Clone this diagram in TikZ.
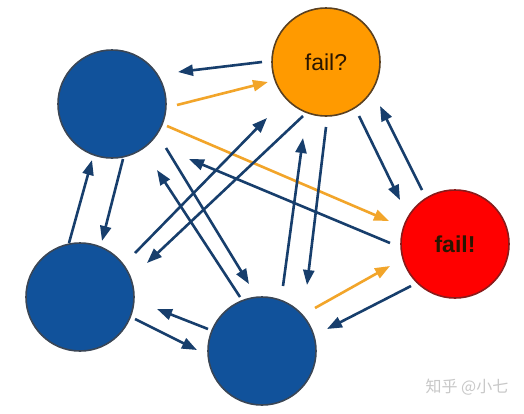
\documentclass[tikz,border=0pt]{standalone}
\usepackage{fontspec}
\setmainfont{Liberation Sans}
\newfontfamily\cjkfont{Noto Sans CJK SC}
\usetikzlibrary{arrows.meta,calc}
\definecolor{nodeblue}{HTML}{11529B}
\definecolor{nodeedge}{HTML}{3A4656}
\definecolor{nodeorange}{HTML}{FF9A00}
\definecolor{orangeedge}{HTML}{5A4020}
\definecolor{nodered}{HTML}{FF0000}
\definecolor{rededge}{HTML}{8A1A1A}
\definecolor{arrdark}{HTML}{173E6C}
\definecolor{arrorange}{HTML}{F2A52A}
\definecolor{wmgray}{HTML}{C8C8C8}
\definecolor{txtdark}{HTML}{2A1600}
\tikzset{
  state/.style={circle, minimum size=108pt, inner sep=0pt, line width=1.6pt, draw=nodeedge},
  bluestate/.style={state, fill=nodeblue},
  arr/.style={draw=arrdark, line width=2.6pt, -{Triangle[length=15pt,width=11pt]}},
  oarr/.style={draw=arrorange, line width=2.6pt, -{Triangle[length=15pt,width=11pt]}},
  lbl/.style={font=\fontsize{23}{26}\selectfont, text=txtdark},
}
\begin{document}
\begin{tikzpicture}[x=1pt,y=-1pt]
\useasboundingbox[fill=white] (0,0) rectangle (524,413);
\node[bluestate] (tl) at (112,104) {};
\node[state, fill=nodeorange, draw=orangeedge, lbl] (fq) at (326,62) {fail?};
\node[state, fill=nodered, draw=rededge, lbl, font=\fontsize{23}{26}\selectfont\bfseries] (rd) at (455,244) {fail!};
\node[bluestate] (bl) at (80,297) {};
\node[bluestate] (bm) at (262,351) {};
% arrows
\draw[arr]  ($(fq)+(-64,0)$)  -- ($(tl)+(66,-32)$);
\draw[oarr] ($(tl)+(65,1)$)   -- ($(fq)+(-58,20)$);
\draw[oarr] ($(tl)+(55,22)$)  -- ($(rd)+(-66,-23)$);
\draw[arr]  ($(rd)+(-65,-1)$) -- ($(tl)+(77,55)$);
\draw[arr]  ($(tl)+(11,55)$)  -- ($(bl)+(22,-56)$);
\draw[arr]  ($(bl)+(-11,-54)$) -- ($(tl)+(-20,56)$);
\draw[arr]  ($(bm)+(-54,-22)$) -- ($(bl)+(77,12)$);
\draw[arr]  ($(bl)+(55,22)$)  -- ($(bm)+(-65,-1)$);
\draw[arr]  ($(tl)+(54,44)$)  -- ($(bm)+(-13,-67)$);
\draw[arr]  ($(bm)+(-22,-54)$) -- ($(tl)+(45,66)$);
\draw[arr]  ($(bl)+(55,-44)$) -- ($(fq)+(-59,56)$);
\draw[arr]  ($(fq)+(-23,54)$) -- ($(bl)+(67,-34)$);
\draw[arr]  ($(bm)+(21,-65)$) -- ($(fq)+(-23,76)$);
\draw[arr]  ($(fq)+(0,65)$)   -- ($(bm)+(45,-66)$);
\draw[arr]  ($(fq)+(33,54)$)  -- ($(rd)+(-55,-44)$);
\draw[arr]  ($(rd)+(-33,-54)$) -- ($(fq)+(54,44)$);
\draw[oarr] ($(bm)+(53,-43)$) -- ($(rd)+(-65,22)$);
\draw[arr]  ($(rd)+(-44,42)$) -- ($(bm)+(65,-22)$);
\node[text=wmgray, font=\cjkfont\fontsize{16}{19}\selectfont, anchor=center] (wm) at (467,387) {知乎 @小七};
\end{tikzpicture}
\end{document}
